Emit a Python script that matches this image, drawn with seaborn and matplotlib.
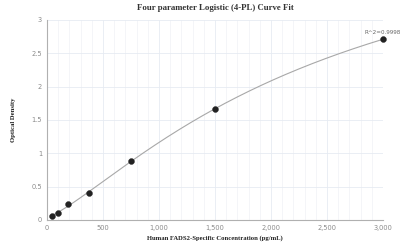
import numpy as np
import pandas as pd
import matplotlib
matplotlib.use("Agg")
import matplotlib.pyplot as plt
import seaborn as sns
from matplotlib.ticker import MultipleLocator, FuncFormatter

# Standard curve data
concentration = [46.875, 93.75, 187.5, 375, 750, 1500, 3000]
optical_density = [0.06, 0.11, 0.24, 0.40, 0.88, 1.67, 2.71]
r_squared_label = "R^2=0.9998"

df = pd.DataFrame({"conc": concentration, "od": optical_density})


def fit_4pl(x, y):
    # crude 4PL fit: grid over slope/midpoint, linear solve for asymptotes
    x = np.asarray(x, float)
    y = np.asarray(y, float)
    best = None
    for b in np.linspace(0.5, 2.5, 81):
        for c in np.geomspace(200, 50000, 200):
            s = 1.0 / (1.0 + (x / c) ** b)
            A = np.column_stack([s, 1 - s])
            coef, *_ = np.linalg.lstsq(A, y, rcond=None)
            err = np.sum((A @ coef - y) ** 2)
            if best is None or err < best[0]:
                best = (err, coef[0], b, c, coef[1])
    return best[1:]


a, b, c, d = fit_4pl(concentration, optical_density)
xs = np.linspace(min(concentration), max(concentration), 300)
ys = d + (a - d) / (1 + (xs / c) ** b)

sns.set_style("white")
fig = plt.figure(figsize=(4.0, 2.52), dpi=100)
ax = fig.add_axes([0.1175, 0.127, 0.84, 0.794])

ax.plot(xs, ys, color="#a8a8a8", lw=0.8, zorder=2)
sns.scatterplot(data=df, x="conc", y="od", ax=ax, color="#222222", s=18,
                edgecolor="#222222", linewidth=0.3, zorder=3, clip_on=False)

ax.set_xlim(0, 3000)
ax.set_ylim(0, 3)
ax.xaxis.set_major_locator(MultipleLocator(500))
ax.xaxis.set_minor_locator(MultipleLocator(100))
ax.yaxis.set_major_locator(MultipleLocator(0.5))
ax.xaxis.set_major_formatter(FuncFormatter(lambda v, p: f"{int(v):,}"))
ax.yaxis.set_major_formatter(FuncFormatter(lambda v, p: f"{v:g}"))

ax.grid(which="major", color="#e6ebf2", lw=0.6)
ax.grid(which="minor", axis="x", color="#f0f2f6", lw=0.5)
ax.set_axisbelow(True)

for side in ["top", "right"]:
    ax.spines[side].set_visible(False)
for side in ["left", "bottom"]:
    ax.spines[side].set_color("#b0b0b0")
    ax.spines[side].set_linewidth(0.8)

ax.tick_params(which="major", length=2.5, width=0.6, color="#b0b0b0",
               labelsize=4.8, labelcolor="#8a8a8a", pad=1)
ax.tick_params(which="minor", length=0)

ax.annotate(r_squared_label, (concentration[-1], optical_density[-1]),
            xytext=(0, 3), textcoords="offset points", ha="center", va="bottom",
            fontsize=4.1, color="#666666", annotation_clip=False)

ax.set_title("Four parameter Logistic (4-PL) Curve Fit", family="Liberation Serif",
             fontweight="bold", fontsize=6.3, color="#333333", pad=7)
ax.set_xlabel("Human FADS2-Specific Concentration (pg/mL)", family="Liberation Serif",
              fontweight="bold", fontsize=4.8, color="#222222", labelpad=3)
ax.set_ylabel("Optical Density", family="Liberation Serif",
              fontweight="bold", fontsize=4.8, color="#222222", labelpad=11)

fig.savefig("out.png", dpi=100)
